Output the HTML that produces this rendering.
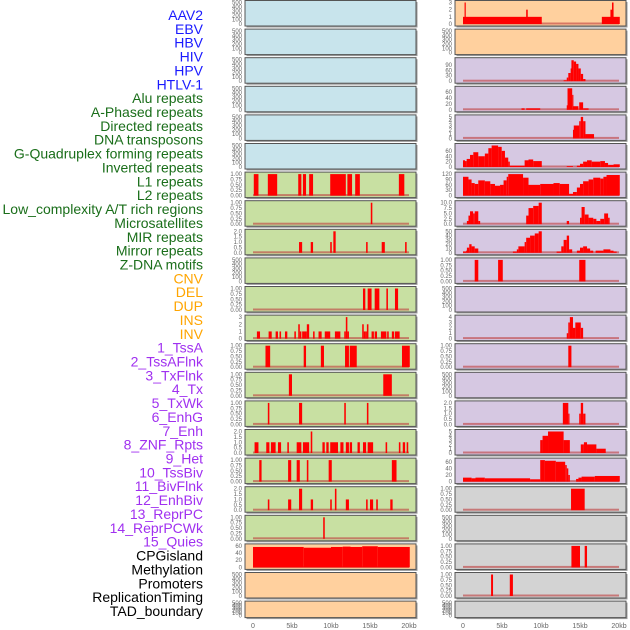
<!DOCTYPE html>
<html><head><meta charset="utf-8"><style>
html,body{margin:0;padding:0;background:#fff;}
svg{display:block;font-family:"Liberation Sans",sans-serif;}
</style></head><body>
<svg id="chart" width="630" height="630" viewBox="0 0 630 630"></svg>
<script>
// ---- data ----
const labelNames = ["AAV2","EBV","HBV","HIV","HPV","HTLV-1","Alu repeats","A-Phased repeats","Directed repeats","DNA transposons","G-Quadruplex forming repeats","Inverted repeats","L1 repeats","L2 repeats","Low_complexity A/T rich regions","Microsatellites","MIR repeats","Mirror repeats","Z-DNA motifs","CNV","DEL","DUP","INS","INV","1_TssA","2_TssAFlnk","3_TxFlnk","4_Tx","5_TxWk","6_EnhG","7_Enh","8_ZNF_Rpts","9_Het","10_TssBiv","11_BivFlnk","12_EnhBiv","13_ReprPC","14_ReprPCWk","15_Quies","CPGisland","Methylation","Promoters","ReplicationTiming","TAD_boundary"];
const labelGroups = [6,13,5,15,5];
const xTickValues = [0,5,10,15,20];
const xTickLabels = ["0","5kb","10kb","15kb","20kb"];
const ticksBlank = ["0","100","200","300","400","500"];
const ticksUnit = ["0.00","0.25","0.50","0.75","1.00"];
const ticksTwo = ["0.0","0.5","1.0","1.5","2.0"];

// left column series [startKb, endKb, value]
const L6 = [[0.1,0.7,1],[1.9,3.1,1],[5.8,6.2,1],[6.4,6.8,1],[7.2,7.7,1],[9.9,11.9,1],[12.1,12.7,1],[13.1,13.7,1],[18.7,19.4,1]];
const L7 = [[15.1,15.3,1]];
const L8 = [[5.9,6.3,1],[7.4,7.7,1],[9.9,10.1,1],[10.3,10.6,2],[14.5,14.7,1],[16.5,16.9,1],[19.5,19.7,1]];
const L10 = [[14.1,14.4,1],[14.7,15.2,1],[15.6,16.2,1],[17.1,17.3,1],[18.2,18.6,1]];
const L11 = [[0.5,0.9,1],[2.0,2.4,1],[2.9,3.2,1],[3.4,3.6,1],[4.1,4.4,1],[5.3,5.5,1],[5.8,6.0,2],[6.0,6.2,1],[6.3,6.6,1],[6.6,6.9,1],[6.9,7.2,2],[7.7,7.9,1],[8.4,8.8,1],[9.2,9.9,1],[10.5,11.2,1],[11.7,11.9,1],[11.9,12.1,3],[12.1,12.3,1],[14.0,14.2,2],[14.2,14.4,1],[14.4,14.6,1],[14.6,14.8,2],[15.2,15.5,1],[15.6,15.9,1],[16.4,17.1,1],[17.2,17.4,1],[17.8,18.1,1],[18.2,18.8,1]];
const L12 = [[1.6,2.2,1],[6.5,6.8,1],[8.7,9.1,1],[11.8,12.3,1],[12.4,13.3,1],[19.1,20.1,1]];
const L13 = [[4.6,5.0,1],[16.7,17.8,1]];
const L14 = [[1.9,2.1,1],[5.9,6.3,1],[11.7,11.9,1],[14.6,14.8,1]];
const L15 = [[0.2,0.7,1],[1.7,2.1,1],[2.3,2.9,1],[3.2,3.6,1],[4.4,4.6,1],[5.6,6.2,1],[6.4,7.2,1],[7.4,7.6,2],[8.9,9.2,1],[9.4,9.7,1],[9.9,10.9,1],[11.2,11.6,1],[11.9,12.3,1],[12.4,12.7,1],[13.4,13.7,1],[14.1,14.5,1],[14.7,15.4,1],[17.0,17.2,1],[18.7,18.9,1],[19.2,19.5,1],[19.7,19.9,1]];
const L16 = [[0.8,1.1,1],[4.5,4.9,1],[5.6,6.0,1],[6.9,7.1,1],[9.7,10.1,1],[17.8,18.4,1]];
const L17 = [[1.9,2.1,1],[4.5,4.9,1],[5.9,6.3,2],[7.4,7.7,1],[9.9,10.1,1],[10.5,10.7,2],[11.9,12.3,1],[14.5,14.7,1],[15.0,15.4,1],[15.8,16.0,1],[17.6,17.9,1]];
const L18 = [[9.0,9.2,1]];
const L19 = [[0,6.5,57],[6.5,10,55],[10,11.5,57],[11.5,12.5,58],[12.5,14,57],[14,16,59],[16,20.1,57]];

// right column series
const R0 = [[0,10.1,1],[0.2,0.35,3],[8.1,8.3,2],[17.8,20.1,1],[18.9,19.3,2],[19.1,19.3,3]];
const R2 = [[12.9,13.3,5],[13.3,13.5,20],[13.5,13.8,45],[13.8,13.9,70],[13.9,14.2,115],[14.2,14.5,108],[14.5,14.8,95],[14.8,15.1,70],[15.1,15.4,40],[15.4,15.7,12]];
const R3 = [[7.5,7.9,5],[8.1,9.9,5],[13.3,13.4,15],[13.4,14.0,72],[14.0,14.1,50],[14.1,14.8,12],[14.9,15.4,25],[15.4,16.1,5]];
const R4 = [[14.1,14.2,2],[14.2,14.9,3],[14.9,15.1,4],[15.1,15.4,5],[15.4,15.7,4],[15.7,16.8,1]];
const R5 = [[0,0.26,25],[0.26,0.47,22],[0.47,0.9,30],[0.9,1.32,45],[1.32,1.96,55],[1.96,2.8,40],[2.8,3.25,50],[3.25,3.67,70],[3.67,4.5,80],[4.5,4.96,75],[4.96,5.38,60],[5.38,5.8,35],[5.8,6.0,20],[6.0,7.9,5],[7.9,8.4,25],[8.4,9.0,28],[9.0,10.1,22],[13.3,14.1,3],[14.6,15.0,5],[15.0,15.4,12],[15.4,15.9,20],[15.9,16.5,25],[16.5,17.6,20],[17.6,18.2,22],[18.2,18.6,15],[18.6,19.3,8],[19.3,20.1,10]];
const R6 = [[0,0.7,105],[0.7,1.1,90],[1.1,1.5,70],[1.5,1.96,65],[1.96,2.8,85],[2.8,3.5,80],[3.5,4.1,65],[4.1,4.75,55],[4.75,5.2,60],[5.2,5.6,85],[5.6,5.8,105],[5.8,7.7,120],[7.7,8.4,100],[8.4,9.9,60],[9.9,11.6,65],[11.6,12.4,70],[12.4,13.6,65],[13.6,14.1,10],[14.1,14.6,20],[14.6,15.0,45],[15.0,15.4,65],[15.4,16.1,80],[16.1,16.7,90],[16.7,17.6,100],[17.6,18.0,95],[18.0,18.4,105],[18.4,20.1,115]];
const R7 = [[0.5,0.7,1.5],[0.7,0.9,4],[0.9,1.3,6],[1.3,1.5,5],[1.5,1.96,6],[1.96,2.2,1.5],[8.1,8.4,4],[8.4,9.0,7.5],[9.0,9.7,8.5],[9.7,10.1,10],[13.3,13.6,1.5],[15.0,15.2,3],[15.2,15.6,8],[15.6,16.1,4.5],[16.1,16.7,3],[16.7,17.1,2.5],[17.1,17.6,1.5],[17.6,18.1,2.5],[18.1,18.6,5],[18.6,18.8,3]];
const R8 = [[0,0.4,3],[0.4,0.5,5],[0.5,0.8,12],[0.8,1.1,20],[1.1,1.5,15],[1.5,1.96,10],[6.4,6.9,3],[6.9,7.1,8],[7.1,7.9,15],[7.9,8.1,25],[8.1,8.6,35],[8.6,9.2,40],[9.2,9.7,45],[9.7,10.1,50],[12.0,12.6,3],[12.6,12.9,15],[12.9,13.3,30],[13.3,13.6,40],[13.6,14.0,8],[14.6,15.0,5],[15.0,15.4,12],[15.4,15.9,15],[15.9,16.3,10],[16.3,16.7,5],[17.0,18.0,5],[18.0,18.9,8],[18.9,19.3,5],[19.3,19.7,3]];
const R9 = [[1.5,1.96,1],[4.5,5.1,1],[14.9,15.7,1]];
const R11 = [[13.3,13.5,1],[13.5,13.7,3],[13.7,14.1,4],[14.1,14.4,2],[14.4,15.1,3],[15.1,15.4,2]];
const R12 = [[13.5,13.9,1]];
const R14 = [[12.8,13.5,2],[13.5,13.6,1],[14.9,15.1,1],[15.1,15.4,2],[15.4,15.7,1]];
const R15 = [[9.9,10.2,3],[10.2,10.9,4],[10.9,12.9,5],[12.9,13.7,3],[15.1,15.5,2],[15.5,15.9,2.5],[15.9,17.1,2],[17.1,18.3,1]];
const R16 = [[0,1.1,12],[1.1,1.6,10],[1.6,2.8,12],[2.8,8.6,10],[8.6,9.9,7],[9.9,10.5,65],[10.5,11.9,63],[11.9,13.1,60],[13.1,13.3,50],[13.3,13.5,40],[13.5,13.7,20],[14.5,14.8,8],[14.8,15.2,12],[15.2,16.9,15],[16.9,20.1,17]];
const R17 = [[13.85,15.6,1]];
const R19 = [[13.9,15.0,1],[15.6,15.9,1]];
const R20 = [[3.6,3.85,1],[6.0,6.4,1]];

// panel specs: [column, row, series, tickLabels, ymax]
const BLUE="#c8e4ec", GREEN="#c8e0a2", ORANGE="#ffd09e", PURPLE="#d6c8e2", GRAY="#d3d3d3";
const panels = [
 [0,0,null,ticksBlank,500,BLUE],[0,1,null,ticksBlank,500,BLUE],[0,2,null,ticksBlank,500,BLUE],
 [0,3,null,ticksBlank,500,BLUE],[0,4,null,ticksBlank,500,BLUE],[0,5,null,ticksBlank,500,BLUE],
 [0,6,L6,ticksUnit,1,GREEN],[0,7,L7,ticksUnit,1,GREEN],[0,8,L8,ticksTwo,2,GREEN],
 [0,9,null,ticksBlank,500,GREEN],[0,10,L10,ticksUnit,1,GREEN],[0,11,L11,["0","1","2","3"],3,GREEN],
 [0,12,L12,ticksUnit,1,GREEN],[0,13,L13,ticksUnit,1,GREEN],[0,14,L14,ticksUnit,1,GREEN],
 [0,15,L15,ticksTwo,2,GREEN],[0,16,L16,ticksUnit,1,GREEN],[0,17,L17,ticksTwo,2,GREEN],
 [0,18,L18,ticksUnit,1,GREEN],[0,19,L19,["0","20","40","60"],60,ORANGE],
 [0,20,null,ticksBlank,500,ORANGE],[0,21,null,ticksBlank,500,ORANGE],
 [1,0,R0,["0","1","2","3"],3,ORANGE],[1,1,null,ticksBlank,500,ORANGE],
 [1,2,R2,["0","30","60","90"],118,PURPLE],[1,3,R3,["0","20","40","60"],72,PURPLE],
 [1,4,R4,["0","1","2","3","4","5"],5,PURPLE],[1,5,R5,["0","20","40","60"],80,PURPLE],
 [1,6,R6,["0","30","60","90","120"],120,PURPLE],[1,7,R7,["0.0","2.5","5.0","7.5","10.0"],10,PURPLE],
 [1,8,R8,["0","10","20","30","40","50"],50,PURPLE],[1,9,R9,ticksUnit,1,PURPLE],
 [1,10,null,ticksBlank,500,PURPLE],[1,11,R11,["0","1","2","3","4"],4,PURPLE],
 [1,12,R12,ticksUnit,1,PURPLE],[1,13,null,ticksBlank,500,PURPLE],
 [1,14,R14,ticksTwo,2,PURPLE],[1,15,R15,["0","1","2","3","4","5"],5,PURPLE],
 [1,16,R16,["0","20","40","60"],65,PURPLE],[1,17,R17,ticksUnit,1,GRAY],
 [1,18,null,ticksBlank,500,GRAY],[1,19,R19,ticksUnit,1,GRAY],
 [1,20,R20,ticksUnit,1,GRAY],[1,21,null,ticksBlank,500,GRAY]
];

// ---- drawing ----
const NS="http://www.w3.org/2000/svg";
const svg=document.getElementById("chart");
function mk(tag,attrs,parent){const e=document.createElementNS(NS,tag);for(const k in attrs)e.setAttribute(k,attrs[k]);(parent||svg).appendChild(e);return e;}
const colX=[245,455], panelW=171;
function rowTop(r){return 0.5+r*28.6;}
function rowH(r){return r===21?16.5:25.5;}
function xScale(col,kb){return colX[col]+8+kb*7.8;}

// labels
const groupColors=["#1a1aff","#1a6e1a","#ffa500","#a030f0","#000000"];
let gi=0,cnt=0;
labelNames.forEach((name,i)=>{
  while(cnt>=labelGroups[gi]){cnt-=labelGroups[gi];gi++;}
  cnt++;
  const t=mk("text",{x:203,y:20+i*13.86,"text-anchor":"end","font-size":"14",fill:groupColors[gi]});
  t.textContent=name;
  
  
});

panels.forEach(p=>{
  const [col,row,series,ticks,ymax,bg]=p;
  const top=rowTop(row),h=rowH(row),x0=colX[col];
  const g=mk("g",{});
  
  
  mk("rect",{x:x0+1.5,y:top+1.5,width:panelW,height:h,fill:"#9a9a9a"},g);
  mk("rect",{x:x0,y:top,width:panelW,height:h,fill:bg,stroke:"#555","stroke-width":1},g);
  const yb=top+h-2, yt=top+2;
  function yScale(v){return yb-(v/ymax)*(yb-yt);}
  const tmax=parseFloat(ticks[ticks.length-1]);
  ticks.forEach(tl=>{
    const v=parseFloat(tl);
    const yy=yb-(v/tmax)*(yb-yt)*(tmax/ymax);
    const t=mk("text",{x:x0-3,y:yy+2,"text-anchor":"end","font-size":"6",fill:"#666"},g);
    t.textContent=tl;
    
    
  });
  if(series){
    const base=mk("rect",{x:xScale(col,0),y:yb-1.5,width:xScale(col,20)-xScale(col,0),height:2,fill:"rgba(190,60,60,0.6)"},g);
    
    
    series.forEach(s=>{
      const xa=xScale(col,s[0]),xb=xScale(col,s[1]),yy=yScale(s[2]);
      const b=mk("rect",{x:xa,y:yy,width:Math.max(1.2,xb-xa),height:yb-yy,fill:"#ff0000"},g);
      
      
    });
  }
});

// x axes
[0,1].forEach(col=>{
  xTickValues.forEach((v,i)=>{
    const t=mk("text",{x:xScale(col,v),y:628,"text-anchor":"middle","font-size":"7",fill:"#666"});
    t.textContent=xTickLabels[i];
    
    
  });
});
</script>
</body></html>
